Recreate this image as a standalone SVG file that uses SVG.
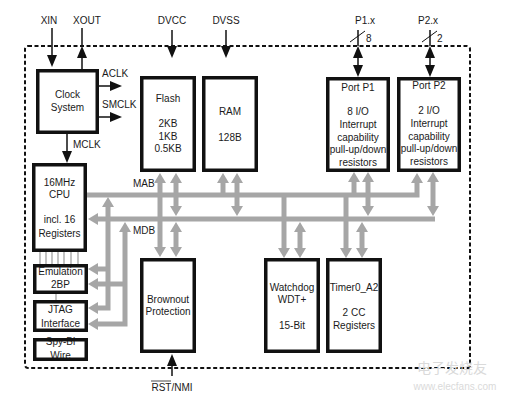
<svg xmlns="http://www.w3.org/2000/svg" width="511" height="402" viewBox="0 0 511 402">
<style>
text{font-family:"Liberation Sans",Arial,sans-serif;font-size:10px;fill:#1a1a1a;text-anchor:middle}
.l{text-anchor:start}
.box{fill:#fff;stroke:#111;stroke-width:3.5}
.frame{fill:none;stroke:#111;stroke-width:3.5}
.bus{fill:none;stroke:#a6a6a6;stroke-width:5;stroke-linejoin:miter}
.sig{fill:none;stroke:#111;stroke-width:1.5}
.thin{stroke:#9a9a9a;stroke-width:1.2}
</style>
<defs>
<marker id="ga" viewBox="0 0 10 12" refX="0" refY="6" markerWidth="10" markerHeight="12" markerUnits="userSpaceOnUse" orient="auto-start-reverse"><path d="M0,0L10,6L0,12z" fill="#a6a6a6"/></marker>
<marker id="ba" viewBox="0 0 12 10" refX="0" refY="5" markerWidth="12" markerHeight="10" markerUnits="userSpaceOnUse" orient="auto-start-reverse"><path d="M0,0L12,5L0,10z" fill="#111"/></marker>
</defs>
<rect width="511" height="402" fill="#fff"/>
<rect x="25" y="46" width="445" height="322" rx="3" fill="none" stroke="#111" stroke-width="2" stroke-dasharray="4,2.5"/>

<g id="connectors">
<g id="buses">
<path class="bus" d="M87,195H417V183" marker-end="url(#ga)"/>
<path class="bus" d="M435,219H98" marker-end="url(#ga)"/>
<path class="bus" d="M160,183V247" marker-start="url(#ga)" marker-end="url(#ga)"/>
<path class="bus" d="M176,183V206" marker-start="url(#ga)" marker-end="url(#ga)"/>
<path class="bus" d="M176,232V247" marker-start="url(#ga)" marker-end="url(#ga)"/>
<path class="bus" d="M223,195V183" marker-end="url(#ga)"/>
<path class="bus" d="M237,183V206" marker-start="url(#ga)" marker-end="url(#ga)"/>
<path class="bus" d="M284,195V248" marker-end="url(#ga)"/>
<path class="bus" d="M300,232V248" marker-start="url(#ga)" marker-end="url(#ga)"/>
<path class="bus" d="M346,195V248" marker-end="url(#ga)"/>
<path class="bus" d="M362,232V248" marker-start="url(#ga)" marker-end="url(#ga)"/>
<path class="bus" d="M354,195V182" marker-end="url(#ga)"/>
<path class="bus" d="M368,182V206" marker-start="url(#ga)" marker-end="url(#ga)"/>
<path class="bus" d="M433,182V206" marker-start="url(#ga)" marker-end="url(#ga)"/>
<path class="bus" d="M108,207V308H98" marker-start="url(#ga)" marker-end="url(#ga)"/>
<path class="bus" d="M108,269H98" marker-end="url(#ga)"/>
<path class="bus" d="M125,232V324H98" marker-start="url(#ga)" marker-end="url(#ga)"/>
<path class="bus" d="M125,284H98" marker-end="url(#ga)"/>
</g>
<g id="signals">
<path class="sig" d="M52,28V55" marker-end="url(#ba)"/>
<path class="sig" d="M82,69V58" marker-end="url(#ba)"/>
<path class="sig" d="M82,46V28"/>
<path class="sig" d="M99,86H110" marker-end="url(#ba)"/>
<path class="sig" d="M99,117H110" marker-end="url(#ba)"/>
<path class="sig" d="M67,134V151" marker-end="url(#ba)"/>
<path class="sig" d="M172,30V46" marker-end="url(#ba)"/>
<path class="sig" d="M226,30V46" marker-end="url(#ba)"/>
<path class="sig" d="M358,30V46"/>
<path class="sig" d="M358,58V65" marker-start="url(#ba)" marker-end="url(#ba)"/>
<path class="sig" d="M430,30V46"/>
<path class="sig" d="M430,58V65" marker-start="url(#ba)" marker-end="url(#ba)"/>
<path class="sig" d="M172,376V366" marker-end="url(#ba)"/>
<line x1="350" y1="42" x2="365" y2="31" stroke="#111" stroke-width="1"/>
<line x1="422" y1="42" x2="437" y2="31" stroke="#111" stroke-width="1"/>
</g>
<g id="debug-links">
<line class="thin" x1="40" y1="252" x2="40" y2="264"/>
<line class="thin" x1="46" y1="252" x2="46" y2="264"/>
<line class="thin" x1="52" y1="252" x2="52" y2="264"/>
<line class="thin" x1="58" y1="252" x2="58" y2="264"/>
<line class="thin" x1="64" y1="252" x2="64" y2="264"/>
<line class="thin" x1="71" y1="252" x2="71" y2="264"/>
<line class="thin" x1="78" y1="252" x2="78" y2="264"/>
<line class="thin" x1="56" y1="294" x2="56" y2="300"/>
</g>
</g>

<g id="labels">
<text x="49" y="24">XIN</text>
<text x="87" y="24">XOUT</text>
<text x="172" y="24">DVCC</text>
<text x="226" y="24">DVSS</text>
<text x="365" y="24">P1.x</text>
<text x="428" y="24">P2.x</text>
<text class="l" x="366" y="42">8</text>
<text class="l" x="437" y="42">2</text>
<text class="l" x="102" y="77">ACLK</text>
<text class="l" x="102" y="108">SMCLK</text>
<text class="l" x="73" y="148">MCLK</text>
<text class="l" x="133" y="187">MAB</text>
<text class="l" x="133" y="234">MDB</text>
<text x="172" y="391">RST/NMI</text>
<line x1="151" y1="381" x2="171" y2="381" stroke="#1a1a1a" stroke-width="0.8"/>
</g>

<g id="clock"><rect class="box" x="37.75" y="70.75" width="59.5" height="61.5"/><text x="67.5" y="98">Clock</text><text x="67.5" y="111">System</text></g>
<g id="cpu"><rect class="box" x="33.75" y="164.75" width="51.5" height="85.5"/><text x="59.5" y="186">16MHz</text><text x="59.5" y="198">CPU</text><text x="59.5" y="223">incl. 16</text><text x="59.5" y="237">Registers</text></g>
<g id="flash"><rect class="box" x="141.75" y="77.75" width="52.5" height="92.5"/><text x="168" y="102">Flash</text><text x="168" y="127">2KB</text><text x="168" y="140">1KB</text><text x="168" y="152">0.5KB</text></g>
<g id="ram"><rect class="box" x="203.75" y="77.75" width="52.5" height="92.5"/><text x="230" y="115">RAM</text><text x="230" y="141">128B</text></g>
<g id="port1"><rect class="box" x="327.75" y="78.75" width="60.5" height="91.5"/><text x="358" y="91">Port P1</text><text x="358" y="115">8 I/O</text><text x="358" y="128">Interrupt</text><text x="358" y="141">capability</text><text x="358" y="153">pull-up/down</text><text x="358" y="166">resistors</text></g>
<g id="port2"><rect class="box" x="398.75" y="78.75" width="60.5" height="91.5"/><text x="429" y="89">Port P2</text><text x="429" y="114">2 I/O</text><text x="429" y="127">Interrupt</text><text x="429" y="140">capability</text><text x="429" y="152">pull-up/down</text><text x="429" y="165">resistors</text></g>
<g id="brownout"><rect class="box" x="141.75" y="259.75" width="52.5" height="91.5"/><text x="168" y="303">Brownout</text><text x="168" y="315">Protection</text></g>
<g id="watchdog"><rect class="box" x="265.75" y="259.75" width="52.5" height="91.5"/><text x="292" y="291">Watchdog</text><text x="292" y="303">WDT+</text><text x="292" y="329">15-Bit</text></g>
<g id="timer"><rect class="box" x="327.75" y="259.75" width="52.5" height="91.5"/><text x="354" y="291">Timer0_A2</text><text x="354" y="316">2 CC</text><text x="354" y="329">Registers</text></g>
<g id="emulation"><rect class="box" x="34.75" y="265.75" width="51.5" height="26.5"/><text x="60.5" y="275">Emulation</text><text x="60.5" y="288">2BP</text></g>
<g id="jtag"><rect class="box" x="34.75" y="301.75" width="51.5" height="28.5"/><text x="60.5" y="313">JTAG</text><text x="60.5" y="327">Interface</text></g>
<g id="spybiwire"><text x="60.5" y="345">Spy-Bi</text><text x="60.5" y="359">Wire</text><rect class="frame" x="34.75" y="339.75" width="51.5" height="19.5"/></g>

<g id="watermark">
<text x="452" y="373" style="font-family:'Noto Sans CJK SC',sans-serif;font-size:14px;fill:#dadada">电子发烧友</text>
<text x="455" y="390" style="font-size:10px;fill:#dadada">www.elecfans.com</text>
</g>
</svg>
